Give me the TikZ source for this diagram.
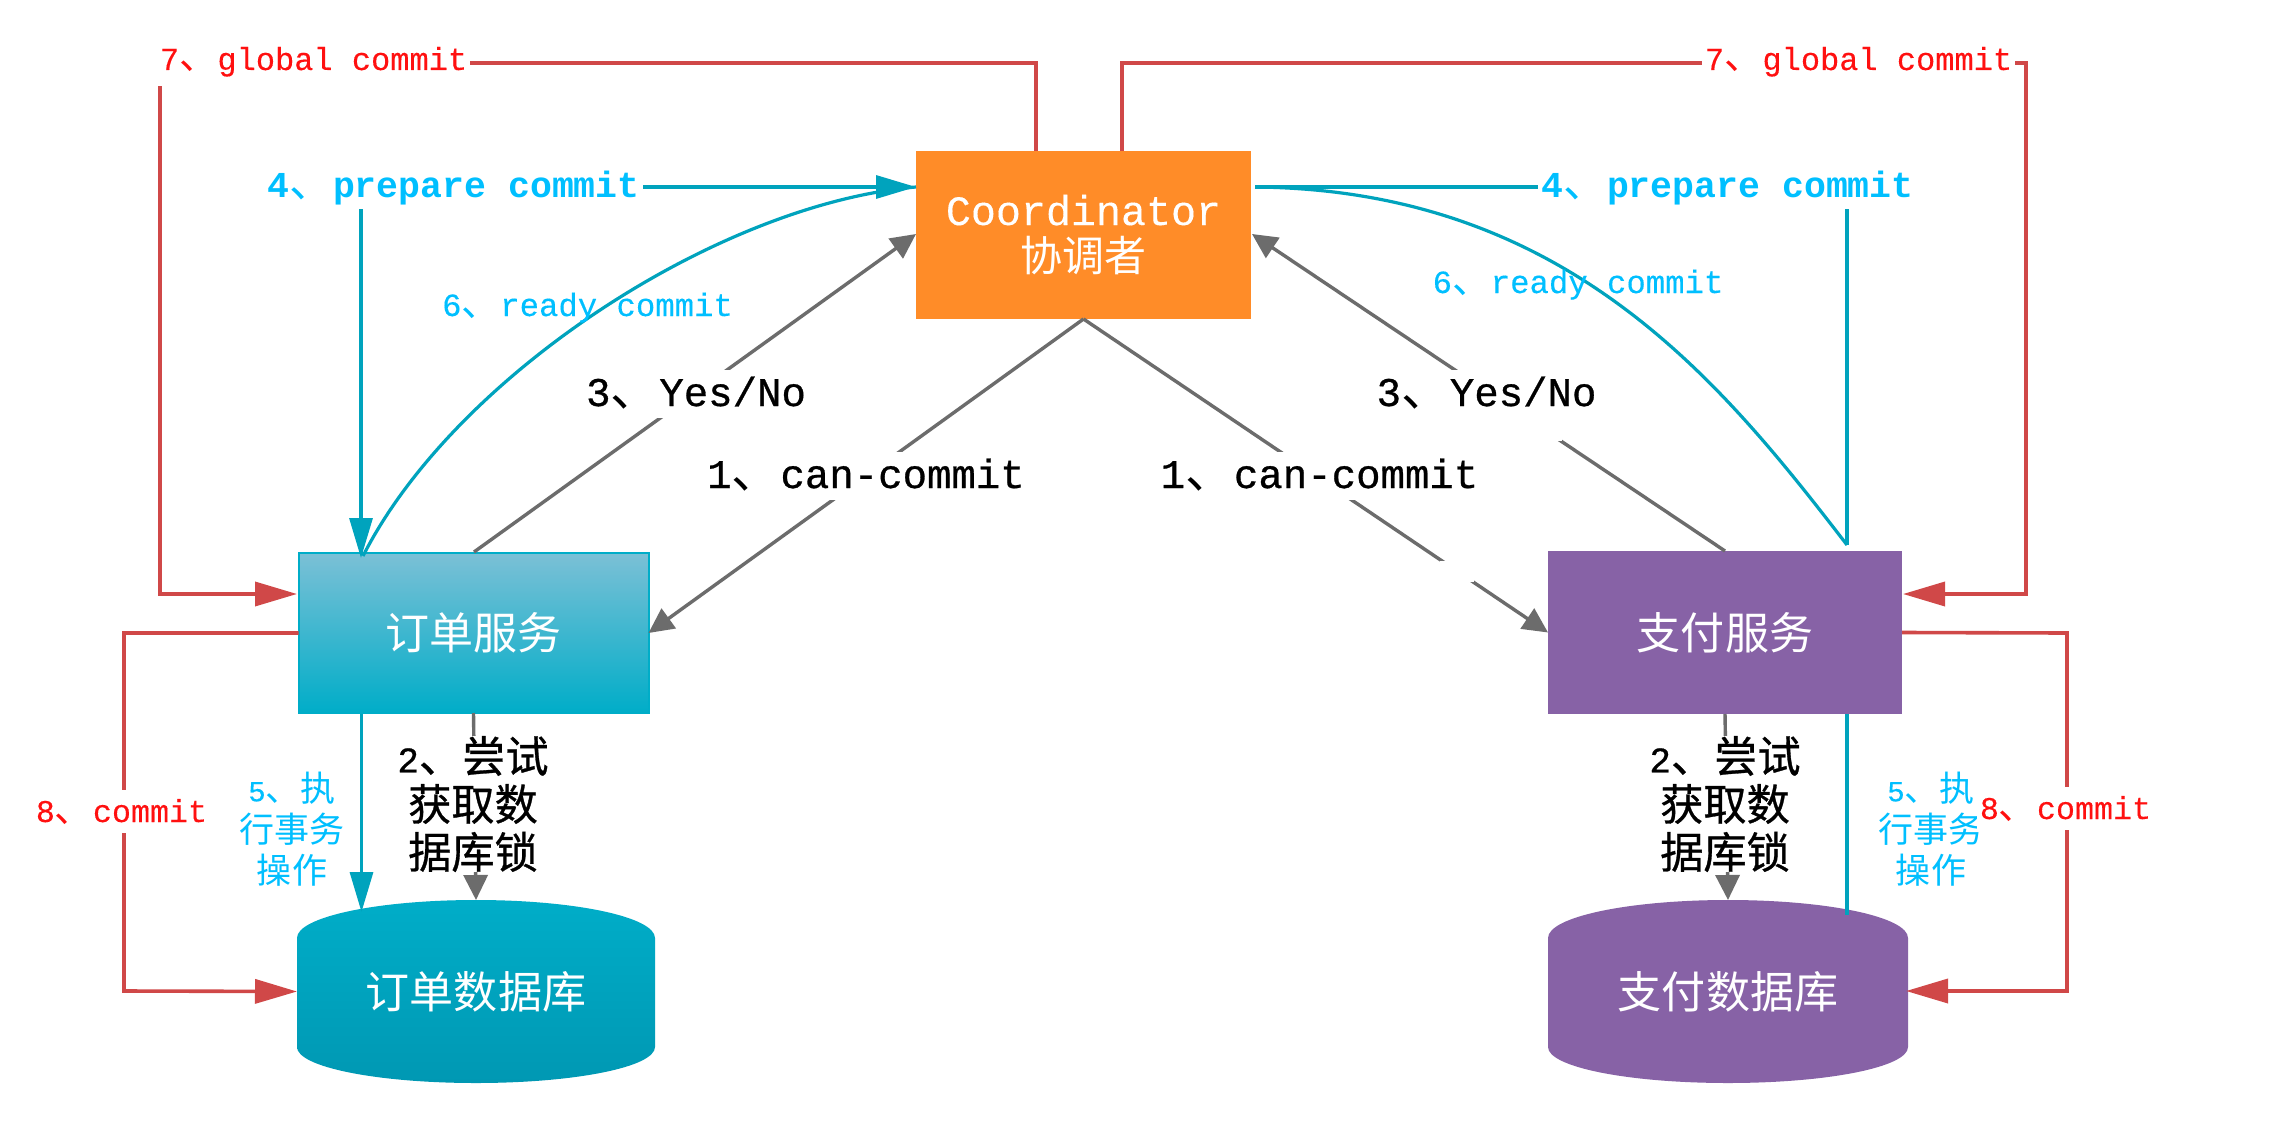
\documentclass[tikz,border=0pt]{standalone}
\usepackage{fontspec}
\setmainfont[FakeBold=0.25]{Liberation Mono}
\newfontfamily\cjk[Scale=1.2]{Noto Sans CJK SC}
\newfontfamily\cjkb[Scale=1.2,FakeBold=0.7]{Noto Sans CJK SC}
\newfontfamily\monob[FakeBold=0.7]{Liberation Mono}
\newfontfamily\monoc[UprightFont=* Bold]{Liberation Mono}
\usetikzlibrary{arrows.meta}
\definecolor{cRed}{HTML}{D04848}
\definecolor{cTeal}{HTML}{00A3BD}
\definecolor{cGray}{HTML}{6C6C6C}
\definecolor{cOrange}{HTML}{FF8C28}
\definecolor{cPurple}{HTML}{8762A6}
\definecolor{cSky}{HTML}{00BFFF}
\definecolor{cTxtRed}{HTML}{FF1010}
\definecolor{cBoxTop}{HTML}{7BC0D6}
\definecolor{cBoxBot}{HTML}{00ADC8}
\definecolor{cDbBot}{HTML}{0098B3}
\newcommand{\fs}[1]{\fontsize{#1}{#1}\selectfont}
\tikzset{
  redline/.style={draw=cRed,line width=3.6pt},
  tealline/.style={draw=cTeal,line width=3.2pt},
  grayline/.style={draw=cGray,line width=3.4pt},
  redtip/.style={-{Triangle[length=42pt,width=24pt]}},
  grayhead/.style={-{Triangle[length=25pt,width=24pt]}},
  tealtip/.style={-{Triangle[length=40pt,width=23pt]}},
  boxtext/.style={text=white,align=center,inner sep=0pt,outer sep=0pt},
  labfill/.style={fill=white,inner ysep=0pt,inner xsep=3pt,outer sep=0pt,anchor=base},
  lab/.style={inner sep=0pt,outer sep=0pt,anchor=base},
  g7/.style={labfill,text=cTxtRed,font=\fs{32},text height=30pt,text depth=16pt},
  g4/.style={labfill,text=cSky,font=\monoc\fs{36.5},text height=30pt,text depth=12pt},
  g6/.style={lab,text=cSky,font=\fs{32.3}},
  g3/.style={labfill,text=black,font=\monob\fs{40.7},text height=36pt,text depth=12pt},
  g8/.style={labfill,text=cTxtRed,font=\fs{31.7},text height=32pt,text depth=11pt},
  g2/.style={fill=white,inner sep=0pt,outer sep=0pt,text=black,align=center,font=\monob\fontsize{36}{48}\selectfont},
  g5/.style={inner sep=0pt,outer sep=0pt,text=cSky,align=center,font=\fontsize{29.2}{41}\selectfont},
}
\begin{document}
\begin{tikzpicture}[x=1pt,y=-1pt]
\useasboundingbox (0,0) rectangle (2290,1126);
\fill[white] (0,0) rectangle (2290,1126);
% cylinders
\shade[top color=cBoxBot,bottom color=cDbBot] (297,938) .. controls (297,917) and (377,900) .. (476,900) .. controls (575,900) and (655,917) .. (655,938) -- (655,1047) .. controls (655,1067) and (575,1083) .. (476,1083) .. controls (377,1083) and (297,1067) .. (297,1047) -- cycle;
\fill[cPurple] (1548,938) .. controls (1548,917) and (1628,900) .. (1728,900) .. controls (1828,900) and (1908,917) .. (1908,938) -- (1908,1047) .. controls (1908,1067) and (1828,1083) .. (1728,1083) .. controls (1628,1083) and (1548,1067) .. (1548,1047) -- cycle;
% nodes
\node[boxtext,fill=cOrange,minimum width=335pt,minimum height=168pt] (coord) at (1083.5,235) {\fs{41.7}Coordinator\\[10pt]{\cjk\fs{35}协调者}};
\node[boxtext,draw=cBoxBot,line width=2pt,top color=cBoxTop,bottom color=cBoxBot,minimum width=350pt,minimum height=160pt] (svcL) at (473.5,633) {\cjk\fs{36.7}订单服务};
\node[boxtext,fill=cPurple,minimum width=354pt,minimum height=163pt] (svcR) at (1725,632.5) {\cjk\fs{36.7}支付服务};
\node[boxtext,minimum width=358pt,minimum height=183pt] (dbL) at (476,991.5) {\cjk\fs{36.7}订单数据库};
\node[boxtext,minimum width=360pt,minimum height=183pt] (dbR) at (1728,991.5) {\cjk\fs{36.7}支付数据库};
% connector way points
\coordinate (a1) at (1036,151);
\coordinate (a2) at (1036,63);
\coordinate (a3) at (160,63);
\coordinate (a4) at (160,594);
\coordinate (a5) at (297,594);
\coordinate (b1) at (1122,151);
\coordinate (b2) at (1122,63);
\coordinate (b3) at (2026,63);
\coordinate (b4) at (2026,594);
\coordinate (b5) at (1903,594);
\coordinate (c1) at (916,187);
\coordinate (c2) at (361,187);
\coordinate (c3) at (361,558);
\coordinate (c4) at (1255,187);
\coordinate (c5) at (1847,187);
\coordinate (c6) at (1847,545);
\coordinate (c7) at (363,556);
\coordinate (d1) at (474,552);
\coordinate (d2) at (916,234);
\coordinate (d3) at (1725,551);
\coordinate (d4) at (1252,234);
\coordinate (e1) at (361.5,714);
\coordinate (e2) at (361.5,912);
\coordinate (e3) at (1847,714);
\coordinate (e4) at (1847,915);
\coordinate (f1) at (124,633);
\coordinate (f2) at (124,991);
\coordinate (f3) at (2067,633);
\coordinate (f4) at (2067,991);
% red connectors
\draw[redline,redtip] (a1) -- (a2) -- (a3) -- (a4) -- (a5);
\draw[redline,redtip] (b1) -- (b2) -- (b3) -- (b4) -- (b5);
\draw[redline,redtip] (svcL.west) -- (f1) -- (f2) -- (dbL.west);
\draw[redline,redtip] (svcR.east) -- (f3) -- (f4) -- (1906,991);
% teal connectors
\draw[tealline,{Triangle[length=40pt,width=23pt]}-{Triangle[length=40pt,width=23pt]}] (c1) -- (c2) -- (c3);
\draw[tealline] (c7) .. controls (455,375) and (719,204) .. (c1);
\draw[tealline] (c4) -- (c5) -- (c6);
\draw[tealline] (c4) .. controls (1566,190) and (1720,380) .. (c6);
\draw[tealline,tealtip] (e1) -- (e2);
\draw[tealline] (e3) -- (e4);
% gray connectors
\draw[grayline,grayhead] (d1) -- (d2);
\draw[grayline,grayhead] (d3) -- (d4);
\draw[grayline,grayhead] (coord.south) -- (svcL.east);
\draw[grayline,grayhead] (coord.south) -- (svcR.west);
\draw[grayline,grayhead] (svcL.south) -- (dbL.north);
\draw[grayline,grayhead] (svcR.south) -- (dbR.north);
% white gaps in the reference
\fill[white] (1520,416) rectangle (1562,441);
\fill[white] (1440,561) rectangle (1474,582);
% labels
\node[g7] (l7a) at (313.5,70) {7{\cjk 、}global commit};
\node[g7] (l7b) at (1858.5,70) {7{\cjk 、}global commit};
\node[g4] (l4a) at (453.5,197) {4{\cjk 、}prepare commit};
\node[g4] (l4b) at (1727.5,197) {4{\cjk 、}prepare commit};
\node[g6] (l6a) at (587.5,316) {6{\cjk 、}ready commit};
\node[g6] (l6b) at (1578,293) {6{\cjk 、}ready commit};
\node[g3] (l3a) at (696,406) {3{\cjk 、}Yes/No};
\node[g3] (l3b) at (1486.5,406) {3{\cjk 、}Yes/No};
\node[g3] (l1a) at (866,488) {1{\cjk 、}can-commit};
\node[g3] (l1b) at (1319.5,488) {1{\cjk 、}can-commit};
\node[g2] (l2a) at (473,804) {2{\cjkb 、尝试}\\{\cjkb 获取数}\\{\cjkb 据库锁}};
\node[g2] (l2b) at (1725,804) {2{\cjkb 、尝试}\\{\cjkb 获取数}\\{\cjkb 据库锁}};
\node[g5] (l5a) at (292,829) {5{\cjk 、执}\\{\cjk 行事务}\\{\cjk 操作}};
\node[g5] (l5b) at (1931,829) {5{\cjk 、执}\\{\cjk 行事务}\\{\cjk 操作}};
\node[g8] (l8a) at (121.5,822) {8{\cjk 、}commit};
\node[g8] (l8b) at (2065.5,819) {8{\cjk 、}commit};
\end{tikzpicture}
\end{document}
